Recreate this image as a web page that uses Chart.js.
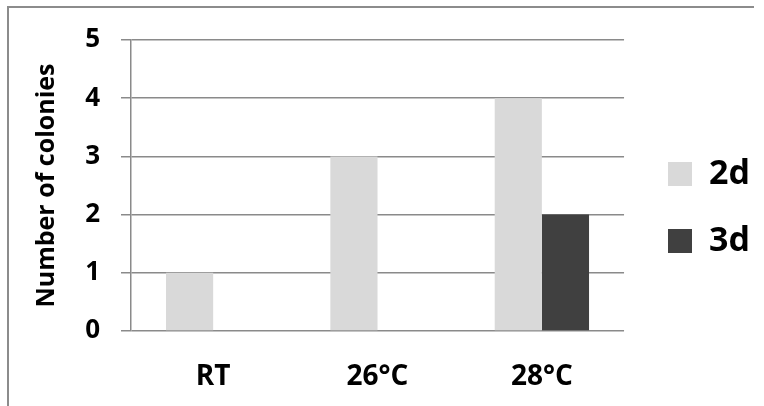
<!DOCTYPE html>
<html>
<head>
<meta charset="utf-8">
<script src="https://cdn.jsdelivr.net/npm/chart.js@4/dist/chart.umd.min.js"></script>
<style>
  html, body { margin: 0; padding: 0; background: #fff; }
  #wrap { position: relative; width: 764px; height: 406px; overflow: hidden; }
  #frame { position: absolute; left: 7px; top: 6px; width: 747px; height: 420px;
           border-left: 2px solid #8c8c8c; border-top: 2px solid #8c8c8c; box-sizing: border-box; }
  canvas { position: absolute; left: 0; top: 0; }
</style>
</head>
<body>
<div id="wrap">
  <div id="frame"></div>
  <canvas id="c" width="764" height="406"></canvas>
</div>
<script>
// Colony counts per incubation temperature
const categories = ['RT', '26°C', '28°C'];
const day2 = [1, 3, 4];
const day3 = [0, 0, 2];
const seriesNames = ['2d', '3d'];
const yTicks = [0, 1, 2, 3, 4, 5];

const FONT = '"Open Sans", "Liberation Sans", sans-serif';
const GRID = '#8a8a8a';
const LEGEND_PAD = 33;

// Places the legend column to the right of the plot once layout is done
const legendPlacement = {
  id: 'legendPlacement',
  afterLayout(chart) {
    const lg = chart.legend;
    if (!lg) return;
    const w = lg.width, h = lg.height;
    lg.left = 668 - LEGEND_PAD;
    lg.right = lg.left + w;
    lg.top = 157 - LEGEND_PAD;
    lg.bottom = lg.top + h;
  }
};

new Chart(document.getElementById('c'), {
  type: 'bar',
  data: {
    labels: categories,
    datasets: [
      { label: seriesNames[0], data: day2, backgroundColor: '#d9d9d9', borderWidth: 0 },
      { label: seriesNames[1], data: day3, backgroundColor: '#404040', borderWidth: 0 }
    ]
  },
  plugins: [legendPlacement],
  options: {
    responsive: false,
    animation: false,
    devicePixelRatio: 1,
    layout: { padding: { left: 0, top: 40, right: 15, bottom: 0 } },
    datasets: { bar: { categoryPercentage: 0.574, barPercentage: 1.0 } },
    plugins: {
      tooltip: { enabled: false },
      legend: {
        position: 'right',
        align: 'start',
        labels: {
          color: '#000',
          boxWidth: 24,
          boxHeight: 24,
          padding: LEGEND_PAD,
          font: { family: FONT, size: 34, weight: 'bold' }
        }
      }
    },
    scales: {
      x: {
        afterFit: (s) => { s.height = 75; },
        grid: { display: false, drawTicks: false },
        border: { display: false },
        ticks: { color: '#000', padding: 29, font: { family: FONT, size: 28, weight: 'bold' } }
      },
      y: {
        min: 0,
        max: 5,
        afterBuildTicks: (s) => { s.ticks = yTicks.map(v => ({ value: v })); },
        afterFit: (s) => { s.width = 131; },
        grid: { color: GRID, lineWidth: 1.5, tickLength: 10, tickColor: GRID },
        border: { display: true, color: GRID, width: 1.5 },
        ticks: { color: '#000', padding: 21, font: { family: FONT, size: 26, weight: 'bold' } },
        title: {
          display: true,
          text: 'Number of colonies',
          color: '#000',
          padding: { top: 32, bottom: 0 },
          font: { family: FONT, size: 25, weight: 'bold' }
        }
      }
    }
  }
});
</script>
</body>
</html>
